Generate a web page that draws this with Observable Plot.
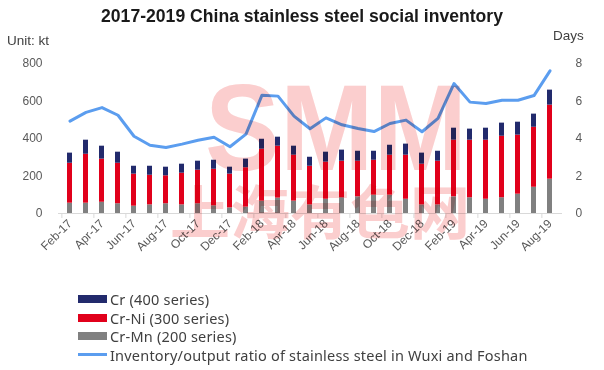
<!DOCTYPE html>
<html>
<head>
<meta charset="utf-8">
<script src="https://cdn.jsdelivr.net/npm/d3@7"></script>
<script src="https://cdn.jsdelivr.net/npm/@observablehq/plot@0.6"></script>
<style>
  html, body { margin: 0; padding: 0; background: #fff; }
  #wrap { position: relative; width: 604px; height: 370px; overflow: hidden; background: #fff; font-family: "Liberation Sans", Arial, sans-serif; }
  #chart { position: absolute; left: 0; top: 0; }
  .abs { position: absolute; line-height: 1; white-space: nowrap; }
  #title { left: 0; width: 604px; top: 8px; text-align: center; font-weight: bold; font-size: 17.6px; color: #1a1a1a; }
  #unit { left: 7px; top: 34px; font-size: 13.5px; color: #404040; }
  #days { left: 553px; top: 29px; font-size: 13.5px; color: #404040; }
  #legend { left: 78px; top: 290px; font-family: "Noto Sans", sans-serif; font-size: 14.5px; letter-spacing: 0.2px; color: #404040; }
  .row { display: flex; align-items: center; height: 18.5px; }
  .sw { width: 29px; height: 8px; margin-right: 3px; }
  .ln { width: 29px; height: 3px; margin-right: 3px; }
  #wm { position: absolute; left: 0; top: 0; mix-blend-mode: multiply; pointer-events: none; }
</style>
</head>
<body>
<div id="wrap">
  <div id="chart"></div>
  <div id="title" class="abs">2017-2019 China stainless steel social inventory</div>
  <div id="unit" class="abs">Unit: kt</div>
  <div id="days" class="abs">Days</div>
  <div id="legend" class="abs"></div>
  <svg id="wm" width="604" height="370">
    <text x="205" y="170" textLength="262" lengthAdjust="spacingAndGlyphs" font-family="Liberation Sans, Arial, sans-serif" font-weight="bold" font-size="123" fill="#FBCECE">SMM</text>
    <text x="170" y="234" textLength="300" lengthAdjust="spacingAndGlyphs" font-family="Noto Sans CJK SC, sans-serif" font-weight="bold" font-size="58" fill="#FBCECE">上海有色网</text>
  </svg>
</div>
<script>
// ---- data ----
const months = ["Feb-17","Mar-17","Apr-17","May-17","Jun-17","Jul-17","Aug-17","Sep-17","Oct-17","Nov-17","Dec-17","Jan-18",
  "Feb-18","Mar-18","Apr-18","May-18","Jun-18","Jul-18","Aug-18","Sep-18","Oct-18","Nov-18","Dec-18","Jan-19",
  "Feb-19","Mar-19","Apr-19","May-19","Jun-19","Jul-19","Aug-19"];
const crMn = [55,55,60,52,39,46,52,46,52,41,30,34,66,82,66,46,76,84,89,98,98,76,46,46,89,84,76,84,103,140,183];
const crNi = [213,261,230,216,171,158,149,169,179,195,180,210,277,277,245,206,198,195,190,186,213,235,217,233,302,307,315,328,315,320,395];
const cr   = [54,75,69,59,42,48,46,48,48,48,37,46,53,48,48,48,53,59,53,48,53,59,59,53,64,59,64,70,69,70,80];
const ratio = [4.93,5.39,5.65,5.24,4.12,3.64,3.52,3.70,3.91,4.07,3.56,4.23,6.31,6.26,5.19,4.52,5.10,4.73,4.53,4.37,4.80,4.98,4.36,5.07,6.93,5.94,5.87,6.04,6.04,6.29,7.61];
const seriesNames = ["Cr-Mn (200 series)","Cr-Ni (300 series)","Cr (400 series)"];
const seriesColors = ["#808080","#E1001B","#222A6C"];
const lineName = "Inventory/output ratio of stainless steel in Wuxi and Foshan";
const lineColor = "#5B9DEF";
const leftTicks = [0,200,400,600,800];
const rightTicks = [0,2,4,6,8];
const xLabels = months.filter((d, i) => i % 2 === 0);

// ---- build table ----
const rows = months.flatMap((m, i) => [
  {month: m, series: seriesNames[0], value: crMn[i]},
  {month: m, series: seriesNames[1], value: crNi[i]},
  {month: m, series: seriesNames[2], value: cr[i]}
]);
const lineRows = months.map((m, i) => ({month: m, ratio: ratio[i]}));

const W = 604, ML = 58, MR = 42;
const step = (W - ML - MR) / months.length;

const chart = Plot.plot({
  width: W,
  height: 280,
  marginTop: 63,
  marginLeft: ML,
  marginRight: MR,
  marginBottom: 67,
  style: {fontFamily: "Liberation Sans, Arial, sans-serif", fontSize: "12px", color: "#595959", background: "transparent"},
  x: {domain: months, paddingInner: 0.66, paddingOuter: 0.33, axis: null},
  y: {domain: [0, 800], axis: null},
  color: {domain: seriesNames, range: seriesColors},
  marks: [
    Plot.barY(rows, {x: "month", y: "value", fill: "series", order: seriesNames}),
    Plot.ruleY([0], {stroke: "#D9D9D9"}),
    Plot.ruleX(xLabels, {x: d => d, y1: 0, y2: 0, insetBottom: -5, dx: -step / 2, stroke: "#D9D9D9"}),
    Plot.axisX(xLabels, {tickSize: 0, tickRotate: -45, tickPadding: 8, fontSize: 12, fill: "#595959", label: null}),
    Plot.axisY(leftTicks, {anchor: "left", tickSize: 0, tickPadding: 16, fontSize: 12, fill: "#595959", label: null}),
    Plot.axisY(rightTicks.map(d => d * 100), {anchor: "right", tickSize: 0, tickPadding: 13, fontSize: 12, fill: "#595959", label: null, tickFormat: d => d / 100}),
    Plot.line(lineRows, {x: "month", y: d => d.ratio * 100, stroke: lineColor, strokeWidth: 3, strokeLinejoin: "round"})
  ]
});
document.getElementById("chart").appendChild(chart);

// ---- legend ----
const legend = document.getElementById("legend");
const legendItems = [
  {label: seriesNames[2], color: seriesColors[2], type: "sw"},
  {label: seriesNames[1], color: seriesColors[1], type: "sw"},
  {label: seriesNames[0], color: seriesColors[0], type: "sw"},
  {label: lineName, color: lineColor, type: "ln"}
];
for (const it of legendItems) {
  const r = document.createElement("div");
  r.className = "row";
  const s = document.createElement("div");
  s.className = it.type;
  s.style.background = it.color;
  const t = document.createElement("span");
  t.textContent = it.label;
  r.appendChild(s); r.appendChild(t);
  legend.appendChild(r);
}
</script>
</body>
</html>
